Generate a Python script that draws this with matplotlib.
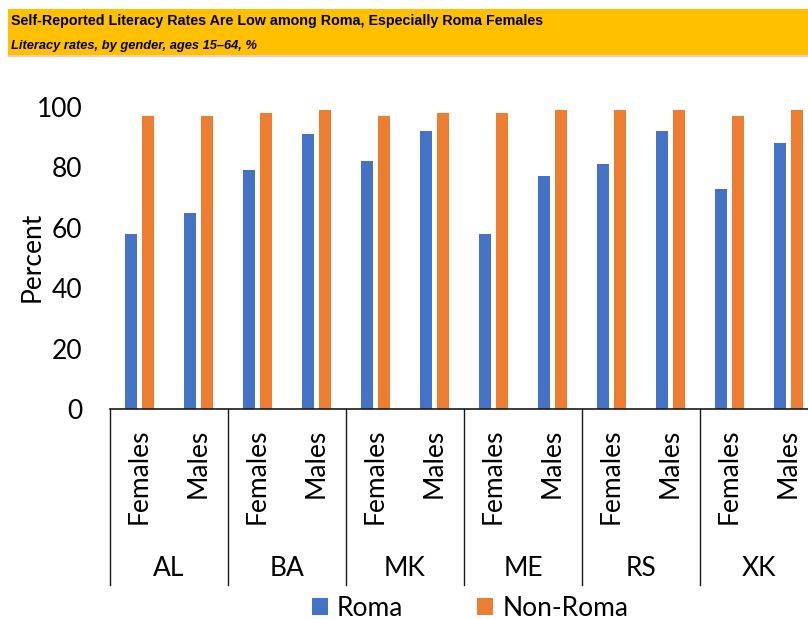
import numpy as np
import matplotlib.pyplot as plt
from matplotlib.patches import Rectangle, Patch
import matplotlib.transforms as mtransforms

countries = ['AL', 'BA', 'MK', 'ME', 'RS', 'XK']
genders = ['Females', 'Males']
roma = [58, 65, 79, 91, 82, 92, 58, 77, 81, 92, 73, 88]
non_roma = [97, 97, 98, 99, 97, 98, 98, 99, 99, 99, 97, 99]
yticks = [0, 20, 40, 60, 80, 100]

title = 'Self-Reported Literacy Rates Are Low among Roma, Especially Roma Females'
subtitle = 'Literacy rates, by gender, ages 15\u201364, %'

plt.rcParams['font.family'] = ['Lato', 'DejaVu Sans']
narrow = ['Liberation Sans Narrow', 'Liberation Sans', 'DejaVu Sans']

W, H = 808, 619
fig = plt.figure(figsize=(W / 100, H / 100), dpi=100)

# header band
fig.patches.append(Rectangle((8 / W, 1 - 55 / H), 1, 46 / H, transform=fig.transFigure,
                             facecolor='#FFC000', edgecolor='none'))
fig.patches.append(Rectangle((8 / W, 1 - 57 / H), 1, 2 / H, transform=fig.transFigure,
                             facecolor='#F8CBAD', edgecolor='none'))
fig.text(11 / W, 1 - 21 / H, title, family=narrow, weight='bold', fontsize=10.3,
         va='center', ha='left')
fig.text(11 / W, 1 - 46 / H, subtitle, family=narrow, weight='bold', style='italic',
         fontsize=9.3, va='center', ha='left')

# axes: x from 110px, one subcategory = 59px; y 0 at 409px, 100 at 107px
ax = fig.add_axes([110 / W, (H - 409) / H, 12 * 59 / W, 302 / H])
x = np.arange(len(roma))
bw = 0.22
off = 0.144
ax.bar(x - off, roma, bw, color='#4472C4', label='Roma')
ax.bar(x + off, non_roma, bw, color='#ED7D31', label='Non-Roma')
ax.set_xlim(-0.5, len(roma) - 0.5)
ax.set_ylim(0, 100)
ax.set_yticks(yticks)
ax.tick_params(axis='y', length=0, pad=20, labelsize=19)
ax.set_xticks([])
for s in ['left', 'right', 'top']:
    ax.spines[s].set_visible(False)
ax.spines['bottom'].set_color('#1a1a1a')
ax.spines['bottom'].set_linewidth(1.2)

trans = mtransforms.blended_transform_factory(ax.transData, ax.transAxes)
ybot = (409 - 585) / 302
for i in range(len(countries) + 1):
    xs = 2 * i - 0.5
    ax.plot([xs, xs], [0, ybot], transform=trans, color='#1a1a1a', lw=1.0, clip_on=False)

for i, c in enumerate(countries):
    for j, g in enumerate(genders):
        ax.text(2 * i + j, (409 - 429) / 302, g, transform=trans, rotation=90,
                ha='center', va='top', fontsize=19)
    ax.text(2 * i + 0.5, (409 - 568) / 302, c, transform=trans, ha='center',
            va='center', fontsize=19)

fig.text(32 / W, 1 - 257 / H, 'Percent', rotation=90, ha='center', va='center', fontsize=19)

handles = [Patch(facecolor='#4472C4', label='Roma'), Patch(facecolor='#ED7D31', label='Non-Roma')]
fig.legend(handles=handles, loc='center', bbox_to_anchor=(470 / W, 1 - 608 / H), ncol=2,
           frameon=False, fontsize=19, handlelength=0.6, handleheight=0.6,
           handletextpad=0.35, columnspacing=2.8, borderpad=0, borderaxespad=0)

fig.savefig('out.png', dpi=100)
